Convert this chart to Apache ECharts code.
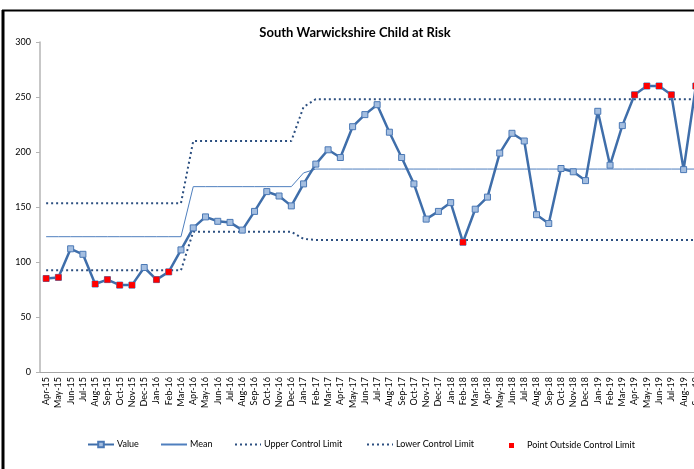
<!DOCTYPE html>
<html>
<head>
<meta charset="utf-8">
<script src="https://cdn.jsdelivr.net/npm/echarts@6/dist/echarts.min.js"></script>
<style>
  html, body { margin: 0; padding: 0; background: #ffffff; overflow: hidden; }
  #chart { width: 702px; height: 469px; }
</style>
</head>
<body>
<div id="chart"></div>
<script>
// Monthly referrals, April 2015 to September 2019
const months = [
  'Apr-15','May-15','Jun-15','Jul-15','Aug-15','Sep-15','Oct-15','Nov-15','Dec-15',
  'Jan-16','Feb-16','Mar-16','Apr-16','May-16','Jun-16','Jul-16','Aug-16','Sep-16','Oct-16','Nov-16','Dec-16',
  'Jan-17','Feb-17','Mar-17','Apr-17','May-17','Jun-17','Jul-17','Aug-17','Sep-17','Oct-17','Nov-17','Dec-17',
  'Jan-18','Feb-18','Mar-18','Apr-18','May-18','Jun-18','Jul-18','Aug-18','Sep-18','Oct-18','Nov-18','Dec-18',
  'Jan-19','Feb-19','Mar-19','Apr-19','May-19','Jun-19','Jul-19','Aug-19','Sep-19'
];

const values = [
  85, 86, 112, 107, 80, 84, 79, 79, 95,
  84, 91, 111, 131, 141, 137, 136, 129, 146, 164, 160, 151,
  171, 189, 202, 195, 223, 234, 243, 218, 195, 171, 139, 146,
  154, 118, 148, 159, 199, 217, 210, 143, 135, 185, 182, 174,
  237, 188, 224, 252, 260, 260, 252, 184, 260
];

const meanLine = [
  123, 123, 123, 123, 123, 123, 123, 123, 123,
  123, 123, 123, 168.5, 168.5, 168.5, 168.5, 168.5, 168.5, 168.5, 168.5, 168.5,
  181, 184.5, 184.5, 184.5, 184.5, 184.5, 184.5, 184.5, 184.5, 184.5, 184.5, 184.5,
  184.5, 184.5, 184.5, 184.5, 184.5, 184.5, 184.5, 184.5, 184.5, 184.5, 184.5, 184.5,
  184.5, 184.5, 184.5, 184.5, 184.5, 184.5, 184.5, 184.5, 184.5
];

const upperLimit = [
  153.5, 153.5, 153.5, 153.5, 153.5, 153.5, 153.5, 153.5, 153.5,
  153.5, 153.5, 153.5, 210, 210, 210, 210, 210, 210, 210, 210, 210,
  241, 248, 248, 248, 248, 248, 248, 248, 248, 248, 248, 248,
  248, 248, 248, 248, 248, 248, 248, 248, 248, 248, 248, 248,
  248, 248, 248, 248, 248, 248, 248, 248, 248
];

const lowerLimit = [
  92.5, 92.5, 92.5, 92.5, 92.5, 92.5, 92.5, 92.5, 92.5,
  92.5, 92.5, 92.5, 127.5, 127.5, 127.5, 127.5, 127.5, 127.5, 127.5, 127.5, 127.5,
  121, 120, 120, 120, 120, 120, 120, 120, 120, 120, 120, 120,
  120, 120, 120, 120, 120, 120, 120, 120, 120, 120, 120, 120,
  120, 120, 120, 120, 120, 120, 120, 120, 120
];

const yTicks = { min: 0, max: 300, interval: 50 };

// A point is flagged when it falls outside its control limits
const outsidePoints = values.map((v, i) =>
  (v > upperLimit[i] || v < lowerLimit[i]) ? v : null);

const FONT = 'Lato, "Open Sans", sans-serif';
const limitColor = '#2C4F80';

const chart = echarts.init(document.getElementById('chart'), null, { renderer: 'canvas' });

function legendAt(name, left, extra) {
  return Object.assign({
    data: [name],
    left: left,
    top: 440,
    padding: 0,
    itemWidth: 26,
    itemHeight: 7,
    itemStyle: { opacity: 0 },
    textStyle: { fontFamily: FONT, fontSize: 9, color: '#000', padding: [0, 0, 0, -2] },
    selectedMode: false
  }, extra || {});
}

chart.setOption({
  animation: false,
  backgroundColor: '#ffffff',
  title: {
    text: 'South Warwickshire Child at Risk',
    left: 350,
    top: 21,
    textAlign: 'center',
    textStyle: { fontFamily: FONT, fontSize: 13, fontWeight: 'bold', color: '#000' }
  },
  legend: [
    legendAt('Value', 87, { itemStyle: {} }),
    legendAt('Mean', 160),
    legendAt('Upper Control Limit', 234),
    legendAt('Lower Control Limit', 366),
    legendAt('Point Outside Control Limit', 509, {
      itemWidth: 5, itemHeight: 5, top: 441, itemStyle: {},
      textStyle: { fontFamily: FONT, fontSize: 9, color: '#000', padding: [0, 0, 0, 8] }
    })
  ],
  graphic: [
    { type: 'line', shape: { x1: 3, y1: 10, x2: 3, y2: 469 }, style: { stroke: '#000', lineWidth: 3 } },
    { type: 'line', shape: { x1: 2, y1: 10.5, x2: 702, y2: 10.5 }, style: { stroke: '#000', lineWidth: 2 } }
  ],
  grid: { left: 40, top: 42, height: 330, right: 0, containLabel: false },
  xAxis: {
    type: 'category',
    data: months,
    boundaryGap: true,
    axisLine: { lineStyle: { color: '#a6a6a6', width: 1 } },
    axisTick: { show: false },
    axisLabel: {
      rotate: 90, interval: 0, margin: 5,
      fontFamily: FONT, fontSize: 9, color: '#000'
    },
    splitLine: { show: false }
  },
  yAxis: {
    type: 'value',
    min: yTicks.min, max: yTicks.max, interval: yTicks.interval,
    axisLine: { show: true, lineStyle: { color: '#b4b4b4', width: 1.5 } },
    axisTick: { show: true, inside: false, length: 4, lineStyle: { color: '#b4b4b4' } },
    axisLabel: { fontFamily: FONT, fontSize: 9, color: '#000', margin: 9 },
    splitLine: { show: false }
  },
  series: [
    {
      name: 'Mean',
      type: 'line',
      data: meanLine,
      symbol: 'none',
      lineStyle: { color: '#4F7FBE', width: 1 },
      itemStyle: { color: '#4F7FBE' },
      z: 2
    },
    {
      name: 'Upper Control Limit',
      type: 'line',
      data: upperLimit,
      symbol: 'none',
      lineStyle: { color: limitColor, width: 2, type: [2, 3] },
      itemStyle: { color: limitColor },
      z: 2
    },
    {
      name: 'Lower Control Limit',
      type: 'line',
      data: lowerLimit,
      symbol: 'none',
      lineStyle: { color: limitColor, width: 2, type: [2, 3] },
      itemStyle: { color: limitColor },
      z: 2
    },
    {
      name: 'Value',
      type: 'line',
      data: values,
      symbol: 'rect',
      symbolSize: 6,
      showAllSymbol: true,
      lineStyle: { color: '#3F6EAA', width: 2.5 },
      itemStyle: { color: '#A4BEE0', borderColor: '#4A78B5', borderWidth: 1 },
      z: 3
    },
    {
      name: 'Point Outside Control Limit',
      type: 'scatter',
      data: outsidePoints,
      symbol: 'rect',
      symbolSize: 6,
      itemStyle: { color: '#FF0000', borderWidth: 0, opacity: 1 },
      z: 4
    }
  ]
});
</script>
</body>
</html>
